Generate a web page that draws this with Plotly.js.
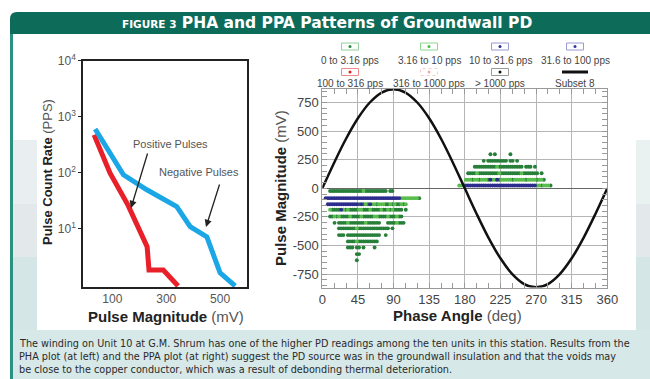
<!DOCTYPE html>
<html><head><meta charset="utf-8">
<script src="https://cdn.plot.ly/plotly-3.0.1.min.js"></script>
<style>html,body{margin:0;padding:0;background:#fff;}#chart{width:650px;height:379px;}</style>
</head><body><div id="chart"></div>
<script>
// ---------- PHA plot (left): pulse count rate vs pulse magnitude ----------
const phaPosMagnitude = [32, 91, 158, 229, 236, 289, 344];
const phaPosRate      = [470, 98, 26, 4.7, 1.8, 1.8, 0.93];
const phaNegMagnitude = [36, 141, 228, 339, 389, 451, 500, 556];
const phaNegRate      = [600, 91, 49, 24.5, 10.7, 7, 1.6, 0.93];
const phaXTicks = [100, 300, 500];
const phaYTicks = [10, 100, 1000, 10000];
const phaYTickText = ['10<sup>1</sup>', '10<sup>2</sup>', '10<sup>3</sup>', '10<sup>4</sup>'];

// ---------- PPA plot (right): pulses per phase bin / magnitude row ----------
// code per phase bin: g = 0 to 3.16 pps, l = 3.16 to 10 pps, b = 10 to 31.6 pps, . = none
const phaseBinWidth = 2.8125; // degrees per phase bin
const ppaRowMag   = [-24, -86, -139, -188, -246, -302, -350, -409, -464, -518, -575, -629,
                     25, 75, 131, 189, 240, 298];
const ppaRowStart = [3, 1, 2, 3, 3, 5, 7, 7, 11, 11, 15, 15,
                     61, 64, 65, 68, 72, 75];
const ppaRowCodes = [
  "ggggggggggggggglgggggggggg.gg",
  "bbbbbbbbbb" + "bbbbbbbbbb" + "bbbbbbbbbb" + "bbbb" + "llllllllg",
  "bbbbbbbbbb" + "bbbb" + "gbglgbllglllgglglgglgl",
  "lggggblglggggllggglgggglgglglgggg.g",
  "gglglgggglgggglgggggllgggglggglgg",
  "g.gggglggggggglgggggg...gggglggg",
  "gggggggglgggggggggggggg.g",
  "ggg.ggggggggggggggg..g",
  "gggglggggggggg",
  "ggg.gg.g....g",
  "gg",
  "g",
  "lll" + "bbbbbbbbbb" + "bbbbbbbbbb" + "bbbbbbbbbb" + "bb" + "llglllg",
  "lllgllglllgbllbglllllglllllgllllgllg",
  "gggglggggggggglggggggggglggggggg.g",
  "gggggggggglggggggggggg.ggg.g",
  "g.ggggggggg.gg.g",
  "g.g......g"
];
const rateClassCodes  = ['g', 'l', 'b'];
const rateClassNames  = ['0 to 3.16 pps', '3.16 to 10 pps', '10 to 31.6 pps'];
const rateClassColors = ['#277f3a', '#58bd4c', '#2c2c8e'];

// reference sine ("Subset 8")
const sinePhase = [0,15,30,45,60,75,90,105,120,135,150,165,180,195,210,225,240,255,270,285,300,315,330,345,360];
const sineMag   = [0,224,433,612,750,837,866,837,750,612,433,224,0,-224,-433,-612,-750,-837,-866,-837,-750,-612,-433,-224,0];

// legend entries of the PPA plot
const legendLabels = ['0 to 3.16 pps','3.16 to 10 pps','10 to 31.6 pps','31.6 to 100 pps',
                      '100 to 316 pps','316 to 1000 pps','> 1000 pps','Subset 8'];
const legendDot    = ['#2e8a40','#4cbb4c','#2f2f92','#3535a8','#e02020','#f2a8a8','#111111', null];
const legendBorder = ['#8fd09c','#8fd68f','#9a9ad6','#9a9ad6','#f08a8a','#f6cccc','#9a9a9a', null];

const captionLines = [
  'The winding on Unit 10 at G.M. Shrum has one of the higher PD readings among the ten units in this station. Results from the',
  'PHA plot (at left) and the PPA plot (at right) suggest the PD source was in the groundwall insulation and that the voids may',
  'be close to the copper conductor, which was a result of debonding thermal deterioration.'
];

// ---------------------------------------------------------------------------
const W = 650, H = 379;
const px = x => x / W, py = y => 1 - y / H;
const FONT = 'Liberation Sans, Arial, sans-serif';
const WIDE = 'DejaVu Sans, Verdana, sans-serif';

const traces = [];
traces.push({x: phaPosMagnitude, y: phaPosRate, xaxis: 'x', yaxis: 'y', mode: 'lines',
  line: {color: '#e8202a', width: 5}, hoverinfo: 'skip'});
traces.push({x: phaNegMagnitude, y: phaNegRate, xaxis: 'x', yaxis: 'y', mode: 'lines',
  line: {color: '#1ba6e6', width: 5}, hoverinfo: 'skip'});

rateClassCodes.forEach((code, ci) => {
  const xs = [], ys = [];
  ppaRowCodes.forEach((row, ri) => {
    for (let k = 0; k < row.length; k++) {
      if (row[k] === code) {
        xs.push((ppaRowStart[ri] + k + 0.5) * phaseBinWidth);
        ys.push(ppaRowMag[ri]);
      }
    }
  });
  traces.push({x: xs, y: ys, xaxis: 'x2', yaxis: 'y2', mode: 'markers', name: rateClassNames[ci],
    marker: {color: rateClassColors[ci], size: 3.9, line: {width: 0}}, hoverinfo: 'skip'});
});
traces.push({x: sinePhase, y: sineMag, xaxis: 'x2', yaxis: 'y2', mode: 'lines', name: 'Subset 8',
  line: {color: '#111', width: 2.5, shape: 'spline', smoothing: 1}, hoverinfo: 'skip'});

const shapes = [];
const annotations = [];
function rectPx(x0, y0, x1, y1, fill, extra) {
  shapes.push(Object.assign({type: 'rect', xref: 'paper', yref: 'paper', layer: 'below',
    x0: px(x0), x1: px(x1), y0: py(y1), y1: py(y0), fillcolor: fill, line: {width: 0}}, extra || {}));
}
// background panels
rectPx(13, 330, 650, 379, '#d6e8e8');
rectPx(13, 140, 37, 204, '#e9eff0');
rectPx(13, 204, 37, 257, '#e3e8ea');
rectPx(13, 257, 37, 330, '#d5e6e7');
rectPx(636, 140, 650, 204, '#e9f1f1');
rectPx(636, 204, 650, 257, '#e3e8ea');
rectPx(636, 257, 650, 330, '#d5e6e7');
// left teal border
rectPx(10, 20, 13, 379, '#2b9282');
// header band with rounded top-left corner
shapes.push({type: 'path', xref: 'paper', yref: 'paper', layer: 'below',
  path: `M ${px(10)} ${py(34)} L ${px(10)} ${py(19)} Q ${px(10)} ${py(12)} ${px(17)} ${py(12)} L ${px(650)} ${py(12)} L ${px(650)} ${py(34)} Z`,
  fillcolor: '#0d6b5a', line: {width: 0}});

function ann(x, y, text, opts) {
  annotations.push(Object.assign({xref: 'paper', yref: 'paper', x: px(x), y: py(y), text: text,
    showarrow: false, xanchor: 'center', yanchor: 'middle', font: {family: FONT, size: 11, color: '#444'}}, opts || {}));
}
// header title
ann(327, 23, "<b><span style='font-size:10.5px'>FIGURE 3</span> PHA and PPA Patterns of Groundwall PD</b>",
  {font: {family: WIDE, size: 15.5, color: '#ffffff'}});
// axis titles
ann(48, 172, "<b>Pulse Count Rate</b> <span style='color:#555'>(PPS)</span>",
  {textangle: -90, font: {family: FONT, size: 13, color: '#222'}});
ann(166, 316, "<b>Pulse Magnitude</b> <span style='color:#555'>(mV)</span>",
  {font: {family: FONT, size: 15, color: '#222'}});
ann(280, 188, "<b>Pulse Magnitude</b> <span style='color:#555'>(mV)</span>",
  {textangle: -90, font: {family: FONT, size: 15, color: '#222'}});
ann(457, 315, "<b>Phase Angle</b> <span style='color:#555'>(deg)</span>",
  {font: {family: FONT, size: 15, color: '#222'}});
// PHA labels and arrows
ann(170, 144, 'Positive Pulses', {font: {family: FONT, size: 11, color: '#555'}});
ann(199, 172, 'Negative Pulses', {font: {family: FONT, size: 11, color: '#555'}});
annotations.push({xref: 'paper', yref: 'paper', x: px(131), y: py(208), ax: 17, ay: -56, text: '',
  showarrow: true, arrowhead: 2, arrowsize: 1.1, arrowwidth: 1.3, arrowcolor: '#222'});
annotations.push({xref: 'paper', yref: 'paper', x: px(206), y: py(227), ax: 14, ay: -44, text: '',
  showarrow: true, arrowhead: 2, arrowsize: 1.1, arrowwidth: 1.3, arrowcolor: '#222'});
// PPA legend
const legCx = [350, 429, 500, 575];
const legSymY = [46.5, 72], legTxtY = [60, 83.5];
legendLabels.forEach((lab, i) => {
  const r = Math.floor(i / 4), c = i % 4;
  const cx = legCx[c], cy = legSymY[r];
  ann(cx, legTxtY[r], lab, {font: {family: FONT, size: 10, color: '#444'}});
  if (legendDot[i]) {
    shapes.push({type: 'rect', xref: 'paper', yref: 'paper', x0: px(cx - 8.5), x1: px(cx + 8.5),
      y0: py(cy + 3.5), y1: py(cy - 3.5), fillcolor: 'rgba(0,0,0,0)',
      line: {color: legendBorder[i], width: 1, dash: i === 5 ? 'dot' : 'solid'}});
    shapes.push({type: 'circle', xref: 'paper', yref: 'paper', x0: px(cx - 1.5), x1: px(cx + 1.5),
      y0: py(cy + 1.5), y1: py(cy - 1.5), fillcolor: legendDot[i], line: {width: 0}});
  } else {
    shapes.push({type: 'line', xref: 'paper', yref: 'paper', x0: px(cx - 13), x1: px(cx + 13),
      y0: py(cy), y1: py(cy), line: {color: '#111', width: 3}});
  }
});
// caption
captionLines.forEach((t, i) => {
  ann(17, 343 + i * 13, t, {xanchor: 'left', font: {family: WIDE, size: 9.7, color: '#2a2a2a'}});
});

const layout = {
  width: W, height: H, margin: {l: 0, r: 0, t: 0, b: 0},
  paper_bgcolor: '#ffffff', plot_bgcolor: '#ffffff', showlegend: false,
  font: {family: FONT, color: '#444'},
  xaxis: {domain: [px(83.3), px(247)], range: [-8, 600], anchor: 'y',
    tickvals: phaXTicks, ticks: '', showline: true, linecolor: '#222', linewidth: 2, mirror: true,
    showgrid: false, zeroline: false, tickfont: {family: FONT, size: 12, color: '#555'}},
  yaxis: {domain: [py(287), py(60.7)], type: 'log', range: [-0.05, 4], anchor: 'x',
    tickvals: phaYTicks, ticktext: phaYTickText, ticks: 'outside', ticklen: 3, tickcolor: '#222',
    showline: true, linecolor: '#222', linewidth: 2, mirror: true, showgrid: false, zeroline: false,
    tickfont: {family: FONT, size: 12, color: '#555'}},
  xaxis2: {domain: [px(322.3), px(607.3)], range: [0, 360], anchor: 'y2',
    tickvals: [0,45,90,135,180,225,270,315,360], ticktext: ['0','45','90','135','180','225','270','315','360'],
    ticks: 'inside', ticklen: 5, tickcolor: '#999', showline: true, linecolor: '#999', linewidth: 1,
    mirror: 'ticks', showgrid: true, gridcolor: '#b5b5b5', gridwidth: 1, zeroline: false,
    minor: {dtick: 15, tick0: 0, ticks: 'inside', ticklen: 5, tickcolor: '#999', showgrid: false},
    tickfont: {family: FONT, size: 13, color: '#444'}},
  yaxis2: {domain: [py(287.6), py(89)], range: [-868, 868], anchor: 'x2',
    tickvals: [-750,-500,-250,0,250,500,750], ticktext: ['-750','-500','-250','0','250','500','750'],
    ticks: 'inside', ticklen: 5, tickcolor: '#999', showline: true, linecolor: '#999', linewidth: 1,
    mirror: 'ticks', showgrid: true, gridcolor: '#b5b5b5', gridwidth: 1,
    zeroline: true, zerolinecolor: '#666', zerolinewidth: 1.5,
    minor: {dtick: 50, tick0: 0, ticks: 'inside', ticklen: 5, tickcolor: '#999', showgrid: false},
    tickfont: {family: FONT, size: 13, color: '#444'}},
  shapes: shapes, annotations: annotations
};
Plotly.newPlot('chart', traces, layout, {staticPlot: true, displayModeBar: false});
</script>
</body></html>
